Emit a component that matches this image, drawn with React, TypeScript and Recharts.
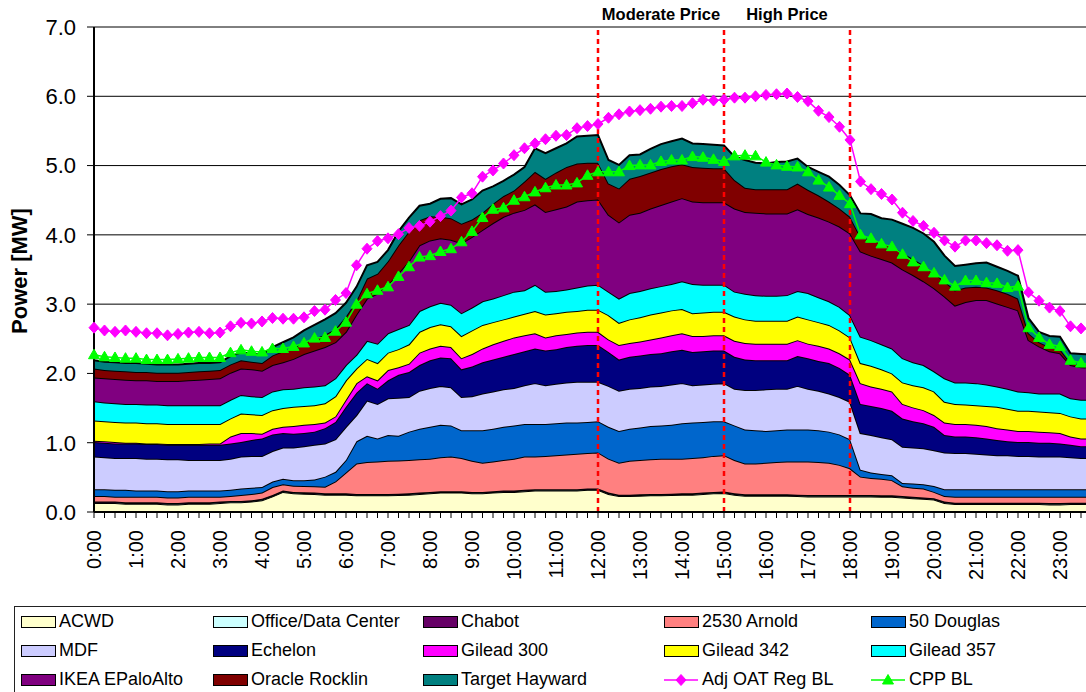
import React from 'react';
import {
  ComposedChart,
  Area,
  Line,
  XAxis,
  YAxis,
  CartesianGrid,
  ReferenceLine,
  ReferenceArea,
} from 'recharts';

const FONT = '"Liberation Sans", Arial, Helvetica, sans-serif';

// ---- categories / tick labels ----
const HOUR_LABELS = [
  '0:00', '1:00', '2:00', '3:00', '4:00', '5:00', '6:00', '7:00', '8:00', '9:00', '10:00', '11:00',
  '12:00', '13:00', '14:00', '15:00', '16:00', '17:00', '18:00', '19:00', '20:00', '21:00', '22:00', '23:00',
];
const QUARTERS = ['00', '15', '30', '45'];
const TIMES = HOUR_LABELS.flatMap((h) => QUARTERS.map((q) => `${h.split(':')[0]}:${q}`));
const Y_TICKS = [0, 1, 2, 3, 4, 5, 6, 7];
const PRICE_LINES = ['12:00', '15:00', '18:00'];

// ---- series values (MW), 15-minute intervals ----
const ACWD = [
  0.13, 0.13, 0.13, 0.12, 0.12, 0.12, 0.12, 0.11, 0.11, 0.12, 0.12, 0.12,
  0.13, 0.14, 0.14, 0.15, 0.17, 0.225, 0.29, 0.27, 0.265, 0.26, 0.25, 0.25,
  0.25, 0.24, 0.24, 0.24, 0.24, 0.245, 0.25, 0.26, 0.27, 0.28, 0.28, 0.28,
  0.27, 0.27, 0.28, 0.29, 0.29, 0.30, 0.31, 0.31, 0.31, 0.31, 0.31, 0.32,
  0.32, 0.26, 0.23, 0.23, 0.235, 0.24, 0.24, 0.245, 0.25, 0.25, 0.26, 0.27,
  0.275, 0.25, 0.235, 0.235, 0.235, 0.235, 0.235, 0.23, 0.225, 0.225, 0.225, 0.225,
  0.225, 0.225, 0.225, 0.22, 0.22, 0.21, 0.20, 0.19, 0.18, 0.13, 0.115, 0.115,
  0.115, 0.115, 0.115, 0.115, 0.115, 0.115, 0.115, 0.11, 0.11, 0.115, 0.115, 0.115,
];
const OFFICE_DATA_CENTER = [
  0.01, 0.01, 0.01, 0.01, 0.01, 0.01, 0.01, 0.01, 0.01, 0.01, 0.01, 0.01,
  0.01, 0.01, 0.01, 0.01, 0.01, 0.01, 0.01, 0.01, 0.01, 0.01, 0.01, 0.01,
  0.01, 0.01, 0.01, 0.01, 0.01, 0.01, 0.01, 0.01, 0.01, 0.01, 0.01, 0.01,
  0.01, 0.01, 0.01, 0.01, 0.01, 0.01, 0.01, 0.01, 0.01, 0.01, 0.01, 0.01,
  0.01, 0.01, 0.01, 0.01, 0.01, 0.01, 0.01, 0.01, 0.01, 0.01, 0.01, 0.01,
  0.01, 0.01, 0.01, 0.01, 0.01, 0.01, 0.01, 0.01, 0.01, 0.01, 0.01, 0.01,
  0.01, 0.01, 0.01, 0.01, 0.01, 0.01, 0.01, 0.01, 0.01, 0.01, 0.01, 0.01,
  0.01, 0.01, 0.01, 0.01, 0.01, 0.01, 0.01, 0.01, 0.01, 0.01, 0.01, 0.01,
];
const CHABOT = [
  0.01, 0.01, 0.01, 0.01, 0.01, 0.01, 0.01, 0.01, 0.01, 0.01, 0.01, 0.01,
  0.01, 0.01, 0.01, 0.01, 0.01, 0.01, 0.01, 0.01, 0.01, 0.01, 0.01, 0.01,
  0.01, 0.01, 0.01, 0.01, 0.01, 0.01, 0.01, 0.01, 0.01, 0.01, 0.01, 0.01,
  0.01, 0.01, 0.01, 0.01, 0.01, 0.01, 0.01, 0.01, 0.01, 0.01, 0.01, 0.01,
  0.01, 0.01, 0.01, 0.01, 0.01, 0.01, 0.01, 0.01, 0.01, 0.01, 0.01, 0.01,
  0.01, 0.01, 0.01, 0.01, 0.01, 0.01, 0.01, 0.01, 0.01, 0.01, 0.01, 0.01,
  0.01, 0.01, 0.01, 0.01, 0.01, 0.01, 0.01, 0.01, 0.01, 0.01, 0.01, 0.01,
  0.01, 0.01, 0.01, 0.01, 0.01, 0.01, 0.01, 0.01, 0.01, 0.01, 0.01, 0.01,
];
const ARNOLD_2530 = [
  0.08, 0.08, 0.07, 0.08, 0.08, 0.08, 0.08, 0.08, 0.08, 0.08, 0.08, 0.08,
  0.07, 0.07, 0.085, 0.09, 0.09, 0.115, 0.09, 0.09, 0.09, 0.09, 0.095, 0.17,
  0.30, 0.44, 0.46, 0.47, 0.48, 0.48, 0.48, 0.48, 0.48, 0.49, 0.50, 0.48,
  0.45, 0.42, 0.43, 0.44, 0.46, 0.48, 0.47, 0.48, 0.49, 0.50, 0.51, 0.51,
  0.52, 0.49, 0.46, 0.49, 0.495, 0.50, 0.51, 0.505, 0.50, 0.51, 0.51, 0.52,
  0.525, 0.48, 0.445, 0.445, 0.455, 0.465, 0.475, 0.48, 0.485, 0.475, 0.465, 0.435,
  0.385, 0.265, 0.245, 0.24, 0.22, 0.14, 0.13, 0.13, 0.09, 0.08, 0.085, 0.085,
  0.085, 0.085, 0.085, 0.085, 0.085, 0.085, 0.085, 0.09, 0.09, 0.085, 0.085, 0.085,
];
const DOUGLAS_50 = [
  0.10, 0.10, 0.10, 0.10, 0.09, 0.09, 0.09, 0.09, 0.09, 0.09, 0.09, 0.09,
  0.09, 0.09, 0.095, 0.09, 0.08, 0.08, 0.08, 0.08, 0.085, 0.10, 0.145, 0.14,
  0.18, 0.32, 0.38, 0.33, 0.37, 0.355, 0.41, 0.44, 0.46, 0.47, 0.45, 0.40,
  0.44, 0.47, 0.47, 0.48, 0.48, 0.47, 0.47, 0.46, 0.46, 0.46, 0.45, 0.45,
  0.45, 0.46, 0.46, 0.46, 0.47, 0.48, 0.48, 0.49, 0.51, 0.51, 0.51, 0.50,
  0.49, 0.50, 0.49, 0.48, 0.46, 0.46, 0.46, 0.46, 0.46, 0.46, 0.45, 0.44,
  0.42, 0.10, 0.08, 0.07, 0.07, 0.05, 0.06, 0.06, 0.085, 0.10, 0.11, 0.11,
  0.11, 0.11, 0.11, 0.11, 0.11, 0.11, 0.11, 0.11, 0.11, 0.11, 0.11, 0.11,
];
const MDF = [
  0.47, 0.46, 0.46, 0.46, 0.47, 0.46, 0.46, 0.46, 0.46, 0.44, 0.44, 0.44,
  0.44, 0.45, 0.46, 0.46, 0.45, 0.44, 0.45, 0.47, 0.49, 0.50, 0.48, 0.47,
  0.48, 0.38, 0.51, 0.50, 0.53, 0.55, 0.50, 0.55, 0.56, 0.56, 0.55, 0.48,
  0.49, 0.53, 0.54, 0.54, 0.54, 0.56, 0.59, 0.56, 0.57, 0.58, 0.59, 0.58,
  0.57, 0.59, 0.58, 0.58, 0.57, 0.57, 0.57, 0.58, 0.58, 0.54, 0.54, 0.54,
  0.55, 0.53, 0.57, 0.58, 0.60, 0.60, 0.59, 0.63, 0.59, 0.57, 0.55, 0.54,
  0.54, 0.53, 0.54, 0.53, 0.52, 0.52, 0.52, 0.52, 0.515, 0.53, 0.52, 0.52,
  0.51, 0.50, 0.49, 0.49, 0.48, 0.48, 0.47, 0.47, 0.47, 0.46, 0.45, 0.45,
];
const ECHELON = [
  0.21, 0.21, 0.21, 0.21, 0.21, 0.21, 0.21, 0.21, 0.21, 0.22, 0.22, 0.22,
  0.22, 0.22, 0.21, 0.23, 0.25, 0.24, 0.21, 0.20, 0.19, 0.19, 0.22, 0.25,
  0.29, 0.32, 0.25, 0.22, 0.26, 0.33, 0.36, 0.37, 0.40, 0.41, 0.42, 0.40,
  0.43, 0.45, 0.46, 0.47, 0.49, 0.49, 0.50, 0.50, 0.50, 0.51, 0.52, 0.53,
  0.53, 0.49, 0.45, 0.46, 0.47, 0.47, 0.47, 0.48, 0.48, 0.48, 0.48, 0.48,
  0.47, 0.46, 0.44, 0.43, 0.42, 0.41, 0.41, 0.43, 0.44, 0.43, 0.44, 0.42,
  0.39, 0.42, 0.42, 0.42, 0.41, 0.41, 0.38, 0.36, 0.34, 0.25, 0.24, 0.24,
  0.24, 0.23, 0.22, 0.20, 0.20, 0.20, 0.20, 0.20, 0.19, 0.18, 0.17, 0.17,
];
const GILEAD_300 = [
  0.02, 0.02, 0.02, 0.01, 0.01, 0.01, 0.01, 0.01, 0.01, 0.01, 0.01, 0.02,
  0.02, 0.10, 0.13, 0.10, 0.07, 0.08, 0.09, 0.11, 0.12, 0.11, 0.08, 0.08,
  0.10, 0.14, 0.10, 0.12, 0.15, 0.11, 0.12, 0.18, 0.17, 0.17, 0.16, 0.16,
  0.18, 0.20, 0.22, 0.23, 0.24, 0.23, 0.22, 0.19, 0.20, 0.19, 0.19, 0.19,
  0.19, 0.18, 0.21, 0.20, 0.20, 0.21, 0.23, 0.23, 0.24, 0.23, 0.22, 0.22,
  0.22, 0.23, 0.24, 0.24, 0.24, 0.24, 0.24, 0.23, 0.21, 0.22, 0.21, 0.21,
  0.22, 0.30, 0.28, 0.28, 0.28, 0.21, 0.20, 0.19, 0.17, 0.18, 0.18, 0.18,
  0.18, 0.18, 0.17, 0.17, 0.16, 0.16, 0.16, 0.15, 0.15, 0.12, 0.11, 0.11,
];
const GILEAD_342 = [
  0.29, 0.29, 0.29, 0.29, 0.29, 0.29, 0.29, 0.29, 0.29, 0.29, 0.29, 0.28,
  0.28, 0.26, 0.28, 0.27, 0.27, 0.27, 0.27, 0.28, 0.27, 0.27, 0.28, 0.29,
  0.28, 0.21, 0.25, 0.25, 0.25, 0.26, 0.28, 0.30, 0.31, 0.31, 0.30, 0.32,
  0.34, 0.34, 0.32, 0.31, 0.30, 0.31, 0.32, 0.33, 0.32, 0.32, 0.31, 0.32,
  0.32, 0.35, 0.32, 0.34, 0.35, 0.36, 0.36, 0.36, 0.35, 0.33, 0.34, 0.34,
  0.34, 0.35, 0.34, 0.33, 0.33, 0.33, 0.33, 0.34, 0.35, 0.34, 0.34, 0.33,
  0.32, 0.29, 0.30, 0.28, 0.26, 0.31, 0.32, 0.33, 0.34, 0.30, 0.29, 0.28,
  0.28, 0.29, 0.31, 0.30, 0.29, 0.29, 0.29, 0.29, 0.29, 0.29, 0.29, 0.29,
];
const GILEAD_357 = [
  0.28, 0.27, 0.27, 0.27, 0.27, 0.27, 0.27, 0.27, 0.27, 0.27, 0.27, 0.27,
  0.27, 0.27, 0.27, 0.26, 0.26, 0.27, 0.27, 0.26, 0.27, 0.27, 0.26, 0.26,
  0.22, 0.20, 0.26, 0.28, 0.28, 0.29, 0.28, 0.30, 0.30, 0.31, 0.31, 0.33,
  0.33, 0.34, 0.34, 0.35, 0.36, 0.34, 0.38, 0.33, 0.32, 0.32, 0.34, 0.35,
  0.36, 0.34, 0.35, 0.38, 0.38, 0.38, 0.38, 0.38, 0.40, 0.42, 0.40, 0.39,
  0.39, 0.36, 0.37, 0.37, 0.36, 0.36, 0.37, 0.37, 0.38, 0.36, 0.34, 0.34,
  0.32, 0.38, 0.37, 0.36, 0.36, 0.35, 0.33, 0.32, 0.29, 0.34, 0.31, 0.32,
  0.32, 0.31, 0.29, 0.29, 0.28, 0.27, 0.26, 0.27, 0.28, 0.26, 0.27, 0.27,
];
const IKEA_EPALOALTO = [
  0.34, 0.35, 0.35, 0.35, 0.34, 0.35, 0.34, 0.35, 0.35, 0.36, 0.37, 0.38,
  0.39, 0.39, 0.38, 0.39, 0.38, 0.38, 0.39, 0.43, 0.48, 0.52, 0.55, 0.52,
  0.48, 0.58, 0.61, 0.72, 0.70, 0.81, 0.92, 0.95, 0.95, 0.93, 0.94, 1.01,
  1.02, 1.03, 1.09, 1.13, 1.14, 1.16, 1.16, 1.15, 1.18, 1.20, 1.24, 1.23,
  1.23, 1.11, 1.10, 1.13, 1.13, 1.15, 1.17, 1.19, 1.20, 1.19, 1.19, 1.19,
  1.19, 1.20, 1.18, 1.19, 1.19, 1.19, 1.18, 1.18, 1.14, 1.15, 1.15, 1.16,
  1.18, 1.23, 1.22, 1.23, 1.24, 1.28, 1.26, 1.21, 1.20, 1.18, 1.11, 1.16,
  1.20, 1.22, 1.20, 1.18, 1.17, 0.75, 0.68, 0.61, 0.58, 0.48, 0.47, 0.46,
];
const ORACLE_ROCKLIN = [
  0.13, 0.12, 0.12, 0.12, 0.12, 0.12, 0.12, 0.12, 0.12, 0.12, 0.12, 0.12,
  0.12, 0.12, 0.12, 0.11, 0.11, 0.14, 0.16, 0.16, 0.16, 0.17, 0.18, 0.19,
  0.22, 0.20, 0.29, 0.29, 0.34, 0.40, 0.43, 0.36, 0.35, 0.31, 0.31, 0.28,
  0.25, 0.25, 0.28, 0.30, 0.32, 0.41, 0.47, 0.48, 0.53, 0.57, 0.55, 0.54,
  0.53, 0.45, 0.49, 0.52, 0.53, 0.52, 0.52, 0.51, 0.49, 0.50, 0.50, 0.49,
  0.49, 0.41, 0.35, 0.34, 0.35, 0.35, 0.35, 0.37, 0.35, 0.32, 0.29, 0.26,
  0.24, 0.21, 0.23, 0.23, 0.23, 0.24, 0.23, 0.23, 0.22, 0.22, 0.22, 0.21,
  0.19, 0.18, 0.19, 0.19, 0.17, 0.10, 0.06, 0.06, 0.06, 0.03, 0.03, 0.03,
];
const TARGET_HAYWARD = [
  0.12, 0.12, 0.12, 0.12, 0.13, 0.12, 0.12, 0.12, 0.12, 0.12, 0.12, 0.11,
  0.11, 0.12, 0.11, 0.12, 0.12, 0.12, 0.13, 0.15, 0.18, 0.20, 0.22, 0.23,
  0.20, 0.20, 0.19, 0.17, 0.16, 0.20, 0.20, 0.21, 0.18, 0.26, 0.29, 0.28,
  0.29, 0.32, 0.25, 0.22, 0.23, 0.21, 0.34, 0.37, 0.35, 0.34, 0.39, 0.39,
  0.40, 0.34, 0.34, 0.34, 0.31, 0.34, 0.36, 0.36, 0.37, 0.34, 0.34, 0.34,
  0.33, 0.34, 0.40, 0.38, 0.37, 0.39, 0.40, 0.36, 0.33, 0.34, 0.36, 0.34,
  0.31, 0.34, 0.37, 0.36, 0.39, 0.42, 0.45, 0.46, 0.45, 0.37, 0.35, 0.33,
  0.34, 0.36, 0.34, 0.33, 0.33, 0.22, 0.15, 0.16, 0.18, 0.14, 0.16, 0.16,
];
const ADJ_OAT_REG_BL = [
  2.66, 2.62, 2.60, 2.62, 2.60, 2.58, 2.58, 2.55, 2.57, 2.59, 2.60, 2.58,
  2.59, 2.68, 2.73, 2.72, 2.75, 2.80, 2.79, 2.79, 2.81, 2.90, 2.92, 3.06,
  3.16, 3.56, 3.80, 3.91, 3.95, 4.01, 4.10, 4.13, 4.19, 4.27, 4.35, 4.54,
  4.60, 4.84, 4.93, 5.03, 5.15, 5.25, 5.32, 5.38, 5.43, 5.44, 5.54, 5.57,
  5.60, 5.69, 5.74, 5.78, 5.80, 5.82, 5.85, 5.86, 5.86, 5.90, 5.95, 5.94,
  5.95, 5.98, 5.98, 6.00, 6.02, 6.03, 6.04, 5.99, 5.93, 5.79, 5.70, 5.56,
  5.37, 4.77, 4.66, 4.59, 4.51, 4.32, 4.20, 4.13, 4.03, 3.92, 3.83, 3.92,
  3.92, 3.88, 3.85, 3.77, 3.78, 3.17, 3.05, 2.95, 2.90, 2.68, 2.65, 2.63,
];
const CPP_BL = [
  2.27, 2.24, 2.23, 2.22, 2.22, 2.20, 2.20, 2.20, 2.21, 2.22, 2.23, 2.23,
  2.23, 2.30, 2.34, 2.32, 2.31, 2.36, 2.36, 2.39, 2.44, 2.51, 2.52, 2.61,
  2.74, 3.00, 3.15, 3.20, 3.25, 3.40, 3.54, 3.68, 3.70, 3.76, 3.80, 3.90,
  4.05, 4.25, 4.37, 4.39, 4.50, 4.55, 4.62, 4.68, 4.72, 4.72, 4.75, 4.86,
  4.91, 4.91, 4.91, 5.00, 5.01, 5.01, 5.06, 5.08, 5.08, 5.13, 5.12, 5.09,
  5.06, 5.14, 5.15, 5.14, 5.05, 5.01, 4.99, 4.98, 4.91, 4.79, 4.69, 4.57,
  4.45, 4.00, 3.95, 3.87, 3.83, 3.72, 3.61, 3.54, 3.45, 3.35, 3.26, 3.34,
  3.34, 3.31, 3.30, 3.24, 3.26, 2.66, 2.52, 2.42, 2.39, 2.19, 2.15, 2.12,
];

type StackSeries = { key: string; name: string; color: string; values: number[] };
const STACK: StackSeries[] = [
  { key: 'acwd', name: 'ACWD', color: '#FFFFCC', values: ACWD },
  { key: 'office', name: 'Office/Data Center', color: '#CCFFFF', values: OFFICE_DATA_CENTER },
  { key: 'chabot', name: 'Chabot', color: '#660066', values: CHABOT },
  { key: 'arnold', name: '2530 Arnold', color: '#FF8080', values: ARNOLD_2530 },
  { key: 'douglas', name: '50 Douglas', color: '#0066CC', values: DOUGLAS_50 },
  { key: 'mdf', name: 'MDF', color: '#CCCCFF', values: MDF },
  { key: 'echelon', name: 'Echelon', color: '#000080', values: ECHELON },
  { key: 'g300', name: 'Gilead 300', color: '#FF00FF', values: GILEAD_300 },
  { key: 'g342', name: 'Gilead 342', color: '#FFFF00', values: GILEAD_342 },
  { key: 'g357', name: 'Gilead 357', color: '#00FFFF', values: GILEAD_357 },
  { key: 'ikea', name: 'IKEA EPaloAlto', color: '#800080', values: IKEA_EPALOALTO },
  { key: 'oracle', name: 'Oracle Rocklin', color: '#800000', values: ORACLE_ROCKLIN },
  { key: 'target', name: 'Target Hayward', color: '#008080', values: TARGET_HAYWARD },
];

type LineSeries = { key: string; name: string; color: string; values: number[]; marker: 'diamond' | 'triangle' };
const LINES: LineSeries[] = [
  { key: 'adj', name: 'Adj OAT Reg BL', color: '#FF00FF', values: ADJ_OAT_REG_BL, marker: 'diamond' },
  { key: 'cpp', name: 'CPP BL', color: '#00FF00', values: CPP_BL, marker: 'triangle' },
];

const data = TIMES.map((t, i) => {
  const row: Record<string, string | number> = { t };
  STACK.forEach((s) => {
    row[s.key] = s.values[i];
  });
  LINES.forEach((l) => {
    row[l.key] = l.values[i];
  });
  return row;
});

function markerShape(kind: 'diamond' | 'triangle', cx: number, cy: number, color: string, key?: React.Key) {
  if (kind === 'diamond') {
    return (
      <polygon
        key={key}
        points={`${cx},${cy - 5.5} ${cx + 5},${cy} ${cx},${cy + 5.5} ${cx - 5},${cy}`}
        fill={color}
        stroke={color}
        strokeWidth={1}
      />
    );
  }
  return (
    <polygon
      key={key}
      points={`${cx},${cy - 5.5} ${cx + 5.5},${cy + 4} ${cx - 5.5},${cy + 4}`}
      fill={color}
      stroke={color}
      strokeWidth={1}
    />
  );
}

const makeDot = (kind: 'diamond' | 'triangle', color: string) => (props: any) => {
  const { cx, cy, index } = props;
  if (cx == null || cy == null) return <g key={`e-${index}`} />;
  return markerShape(kind, cx, cy, color, `m-${index}`);
};

const XTick = (props: any) => {
  const { x, y, payload } = props;
  const v: string = payload && payload.value;
  if (!HOUR_LABELS.includes(v)) return <g />;
  return (
    <g transform={`translate(${x},${y})`}>
      <text
        transform="rotate(-90)"
        x={-10}
        y={0}
        dy="0.36em"
        textAnchor="end"
        fontSize={20}
        fill="#000"
        fontFamily={FONT}
      >
        {v}
      </text>
    </g>
  );
};

const LEGEND_COL_X = [6, 198, 408, 649, 856];

function LegendBox() {
  const items = [
    ...STACK.map((s) => ({ name: s.name, color: s.color, kind: 'rect' as const })),
    ...LINES.map((l) => ({ name: l.name, color: l.color, kind: l.marker })),
  ];
  return (
    <div
      style={{
        position: 'absolute',
        left: 14,
        top: 606,
        width: 1100,
        height: 100,
        border: '1px solid #222',
        boxSizing: 'border-box',
        background: '#fff',
      }}
    >
      {items.map((it, idx) => {
        const r = Math.floor(idx / 5);
        const c = idx % 5;
        return (
          <div
            key={it.name}
            style={{
              position: 'absolute',
              left: LEGEND_COL_X[c],
              top: r * 29,
              height: 29,
              display: 'flex',
              alignItems: 'center',
              whiteSpace: 'nowrap',
              fontSize: 18,
              fontFamily: FONT,
              color: '#000',
            }}
          >
            <svg width={36} height={14} style={{ display: 'block' }}>
              {it.kind === 'rect' ? (
                <rect x={0.5} y={1.5} width={34} height={11} fill={it.color} stroke="#000" strokeWidth={1} />
              ) : (
                <g>
                  <line x1={0} y1={7} x2={34} y2={7} stroke={it.color} strokeWidth={1.5} />
                  {markerShape(it.kind, 17, 7, it.color)}
                </g>
              )}
            </svg>
            <span style={{ marginLeft: 2 }}>{it.name}</span>
          </div>
        );
      })}
    </div>
  );
}

export default function App() {
  return (
    <div
      style={{
        position: 'absolute',
        left: 0,
        top: 0,
        width: 1086,
        height: 692,
        overflow: 'hidden',
        background: '#fff',
        fontFamily: FONT,
      }}
    >
      <ComposedChart width={1100} height={600} data={data} margin={{ top: 27, right: 8.5, bottom: 0, left: 0 }}>
        <CartesianGrid horizontal vertical={false} stroke="#000" strokeWidth={1} />
        {STACK.map((s) => (
          <Area
            key={s.key}
            type="linear"
            dataKey={s.key}
            name={s.name}
            stackId="load"
            stroke="#000"
            strokeWidth={2}
            fill={s.color}
            fillOpacity={1}
            dot={false}
            activeDot={false}
            isAnimationActive={false}
          />
        ))}
        <ReferenceArea
          x1="12:00"
          x2="15:00"
          fill="none"
          stroke="none"
          label={{ value: 'Moderate Price', position: 'top', offset: 7, fill: '#000', fontSize: 16.5, fontWeight: 'bold', fontFamily: FONT }}
        />
        <ReferenceArea
          x1="15:00"
          x2="18:00"
          fill="none"
          stroke="none"
          label={{ value: 'High Price', position: 'top', offset: 7, fill: '#000', fontSize: 16.5, fontWeight: 'bold', fontFamily: FONT }}
        />
        {PRICE_LINES.map((x) => (
          <ReferenceLine key={x} x={x} stroke="#FF0000" strokeWidth={2.5} strokeDasharray="5 4" />
        ))}
        {LINES.map((l) => (
          <Line
            key={l.key}
            type="linear"
            dataKey={l.key}
            name={l.name}
            stroke={l.color}
            strokeWidth={1.5}
            dot={makeDot(l.marker, l.color)}
            activeDot={false}
            isAnimationActive={false}
          />
        ))}
        <XAxis
          dataKey="t"
          scale="point"
          interval={0}
          padding={{ left: 0, right: 0 }}
          tick={<XTick />}
          tickSize={6}
          tickMargin={2}
          height={88}
          axisLine={{ stroke: '#000', strokeWidth: 2 }}
          tickLine={{ stroke: '#000', strokeWidth: 1 }}
        />
        <YAxis
          domain={[0, 7]}
          ticks={Y_TICKS}
          interval={0}
          width={94}
          tickSize={7}
          tickMargin={11}
          tickFormatter={(v: number) => v.toFixed(1)}
          tick={{ fontSize: 22, fill: '#000', fontFamily: FONT }}
          axisLine={{ stroke: '#000', strokeWidth: 2 }}
          tickLine={{ stroke: '#000', strokeWidth: 1 }}
          allowDataOverflow
        />
      </ComposedChart>
      <div
        style={{
          position: 'absolute',
          left: 20,
          top: 271,
          transform: 'translate(-50%, -50%) rotate(-90deg)',
          whiteSpace: 'nowrap',
          fontWeight: 'bold',
          fontSize: 22,
          fontFamily: FONT,
          color: '#000',
        }}
      >
        Power [MW]
      </div>
      <LegendBox />
    </div>
  );
}
